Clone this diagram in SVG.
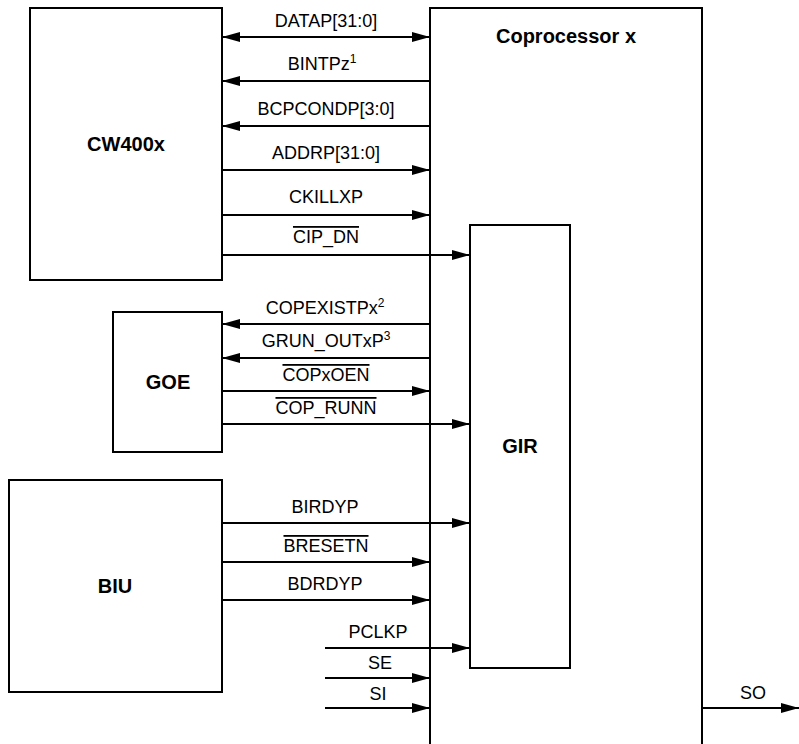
<svg xmlns="http://www.w3.org/2000/svg" width="799" height="744" viewBox="0 0 799 744">
<style>
.box{fill:#fff;stroke:#000;stroke-width:2}
.w{stroke:#000;stroke-width:2;fill:none}
.lbl{font-family:"Liberation Sans",Arial,sans-serif;font-size:18px;fill:#000;text-anchor:middle}
.ttl{font-family:"Liberation Sans",Arial,sans-serif;font-size:20px;font-weight:bold;fill:#000;text-anchor:middle}
.sup{font-size:12px}
.ov{text-decoration:overline}
</style>
<defs>
<marker id="ah" markerUnits="userSpaceOnUse" markerWidth="18" markerHeight="10" refX="18" refY="5" orient="auto-start-reverse">
<path d="M0,0 L18,5 L0,10 z" fill="#000"/>
</marker>
</defs>
<g id="coprocessor">
<rect class="box" x="430" y="8" width="272" height="750"/>
<text class="ttl" x="566" y="43">Coprocessor x</text>
</g>
<g id="gir">
<rect class="box" x="470" y="225" width="100" height="443"/>
<text class="ttl" x="520" y="453">GIR</text>
</g>
<g id="cw400x">
<rect class="box" x="30" y="8" width="192" height="272"/>
<text class="ttl" x="126" y="151">CW400x</text>
</g>
<g id="goe">
<rect class="box" x="113" y="312" width="109" height="140"/>
<text class="ttl" x="168" y="389">GOE</text>
</g>
<g id="biu">
<rect class="box" x="9" y="480" width="213" height="212"/>
<text class="ttl" x="115" y="593">BIU</text>
</g>
<g id="connectors">
<line class="w" x1="222" y1="37" x2="430" y2="37" marker-start="url(#ah)" marker-end="url(#ah)"/>
<line class="w" x1="430" y1="81" x2="222" y2="81" marker-end="url(#ah)"/>
<line class="w" x1="430" y1="126" x2="222" y2="126" marker-end="url(#ah)"/>
<line class="w" x1="222" y1="170" x2="430" y2="170" marker-end="url(#ah)"/>
<line class="w" x1="222" y1="215" x2="430" y2="215" marker-end="url(#ah)"/>
<line class="w" x1="222" y1="255" x2="470" y2="255" marker-end="url(#ah)"/>
<line class="w" x1="430" y1="324" x2="222" y2="324" marker-end="url(#ah)"/>
<line class="w" x1="430" y1="358" x2="222" y2="358" marker-end="url(#ah)"/>
<line class="w" x1="222" y1="391" x2="430" y2="391" marker-end="url(#ah)"/>
<line class="w" x1="222" y1="424" x2="470" y2="424" marker-end="url(#ah)"/>
<line class="w" x1="222" y1="523" x2="470" y2="523" marker-end="url(#ah)"/>
<line class="w" x1="222" y1="562" x2="430" y2="562" marker-end="url(#ah)"/>
<line class="w" x1="222" y1="600" x2="430" y2="600" marker-end="url(#ah)"/>
<line class="w" x1="325" y1="648" x2="470" y2="648" marker-end="url(#ah)"/>
<line class="w" x1="325" y1="678" x2="430" y2="678" marker-end="url(#ah)"/>
<line class="w" x1="325" y1="708" x2="430" y2="708" marker-end="url(#ah)"/>
<line class="w" x1="702" y1="708" x2="799" y2="708" marker-end="url(#ah)"/>
<text class="lbl" x="326" y="27">DATAP[31:0]</text>
<text class="lbl" x="322" y="70">BINTPz<tspan class="sup" dy="-7">1</tspan></text>
<text class="lbl" x="326" y="115">BCPCONDP[3:0]</text>
<text class="lbl" x="326" y="159">ADDRP[31:0]</text>
<text class="lbl" x="326" y="203">CKILLXP</text>
<text class="lbl ov" x="326" y="243">CIP_DN</text>
<text class="lbl" x="325" y="314">COPEXISTPx<tspan class="sup" dy="-7">2</tspan></text>
<text class="lbl" x="326" y="347">GRUN_OUTxP<tspan class="sup" dy="-7">3</tspan></text>
<text class="lbl ov" x="326" y="381">COPxOEN</text>
<text class="lbl ov" x="326" y="414">COP_RUNN</text>
<text class="lbl" x="325" y="513">BIRDYP</text>
<text class="lbl ov" x="326" y="552">BRESETN</text>
<text class="lbl" x="325" y="590">BDRDYP</text>
<text class="lbl" x="378" y="638">PCLKP</text>
<text class="lbl" x="380" y="669">SE</text>
<text class="lbl" x="378" y="700">SI</text>
<text class="lbl" x="753" y="699">SO</text>
</g>
</svg>
